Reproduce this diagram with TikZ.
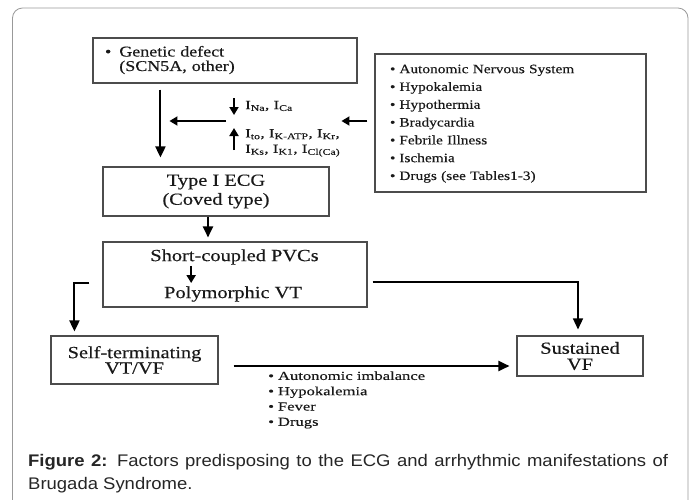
\documentclass[tikz,border=0pt]{standalone}
\usepackage{fontspec}
\usepackage{tikz}
\usetikzlibrary{arrows.meta}

\newfontfamily\diagfont{Liberation Serif}[FakeStretch=1.2, FakeBold=0.3]
\newfontfamily\listfont{Liberation Serif}[FakeStretch=1.35, FakeBold=0.3]
\newfontfamily\capfont{Liberation Sans}[FakeStretch=1.1]

\tikzset{
  box/.style={draw=black!70, line width=1.1pt, inner sep=0pt, align=center,
    text=black!90, font=\diagfont\fontsize{17}{19}\selectfont},
  txt/.style={inner sep=0pt, text=black!90, font=\diagfont\fontsize{17}{19}\selectfont},
  ionlbl/.style={inner sep=0pt, align=left, text=black!90,
    font=\listfont\fontsize{12.5}{15.5}\selectfont},
  lst/.style={inner sep=0pt, align=left, text=black!90},
  arr/.style={-{Triangle[length=11pt,width=10pt]}, line width=2pt},
  small arr/.style={-{Triangle[length=8pt,width=9pt]}, line width=1.8pt}
}

\begin{document}
\begin{tikzpicture}[x=1pt,y=-1pt]

\clip (0,0) rectangle (694,499);
\fill[white] (0,0) rectangle (694,499);

%% The outer frame
\draw[black!40, line width=0.8pt, rounded corners=10pt] (12.5,8) rectangle (688,540);

%% The genetic defect box
\node[box, minimum width=264pt, minimum height=45pt, inner xsep=12pt, text width=240pt,
  align=left, font=\diagfont\fontsize{15}{13.5}\selectfont] (gene) at (225,60.5)
  {\begin{tabular}{@{}l@{\hspace{8pt}}l@{}}\textbullet & Genetic defect\\ & (SCN5A, other)\end{tabular}};

%% The box of factors on the right
\node[box, minimum width=271pt, minimum height=138pt, inner xsep=15pt, text width=241pt,
  align=left, font=\diagfont\fontsize{12.8}{17.8}\selectfont] (risk) at (510.5,123)
  {\begin{tabular}{@{}l@{\hspace{4pt}}l@{}}
  \textbullet & Autonomic Nervous System\\
  \textbullet & Hypokalemia\\
  \textbullet & Hypothermia\\
  \textbullet & Bradycardia\\
  \textbullet & Febrile Illness\\
  \textbullet & Ischemia\\
  \textbullet & Drugs (see Tables1-3)
  \end{tabular}};

%% The ECG box
\node[box, minimum width=226pt, minimum height=49pt] (ecg) at (216,191.5) {Type I ECG\\(Coved type)};

%% The PVC box with its two lines
\node[box, minimum width=264pt, minimum height=65pt] (pvc) at (235,274.5) {};
\node[txt] (pvca) at (234.5,257) {Short-coupled PVCs};
\node[txt] (pvcb) at (233,294) {Polymorphic VT};

%% The end boxes
\node[box, minimum width=167pt, minimum height=48pt, font=\diagfont\fontsize{17}{15.5}\selectfont]
  (self) at (134.5,360) {Self-terminating\\VT/VF};
\node[box, minimum width=126pt, minimum height=40pt, font=\diagfont\fontsize{17}{16}\selectfont]
  (sus) at (580,356) {Sustained\\VF};

%% The currents
\coordinate (ion) at (234,121);
\node[ionlbl, anchor=west] (na) at (245,106) {I\textsubscript{Na}, I\textsubscript{Ca}};
\node[ionlbl, anchor=north west] (kk) at (245,129)
  {I\textsubscript{to}, I\textsubscript{K-ATP}, I\textsubscript{Kr},\\
   I\textsubscript{Ks}, I\textsubscript{K1}, I\textsubscript{Cl(Ca)}};
\draw[small arr] ([yshift=23pt]ion) -- ([yshift=6pt]ion);
\draw[small arr] ([yshift=-29pt]ion) -- ([yshift=-7pt]ion);

%% The arrows of the top part
\coordinate (g1) at ([xshift=68pt,yshift=-6pt]gene.south west);
\draw[arr, shorten >=9pt] (g1) -- (g1 |- ecg.north);
\draw[small arr] ([xshift=-8pt]ion) -- ([xshift=9pt]ion -| g1);
\draw[small arr] ([xshift=-7pt]risk.west |- ion) -- ([xshift=-33pt]risk.west |- ion);

%% ECG to PVCs
\draw[arr, shorten >=4pt] ([xshift=-8pt]ecg.south) -- ([xshift=-8pt]ecg.south |- pvc.north);
\coordinate (m) at ([xshift=41pt,yshift=-1pt]pvca.south west);
\draw[small arr, shorten >=3pt] (m) -- (m |- pvcb.north);

%% The two ways out
\draw[arr, shorten >=4pt] ([xshift=-13pt,yshift=-8.5pt]pvc.west) -| ([xshift=24pt]self.north west);
\draw[arr, line width=1.4pt, shorten >=6pt] ([xshift=5pt,yshift=-7.5pt]pvc.east) -| ([xshift=-2pt]sus.north);
\draw[arr, shorten >=7pt] ([xshift=15pt,yshift=-6pt]self.east) -- ([yshift=-6pt]self.east -| sus.west);

%% The triggers under the arrow
\node[lst, anchor=north west, font=\listfont\fontsize{12.3}{15.3}\selectfont] (trig) at (268,369)
  {\begin{tabular}{@{}l@{\hspace{4pt}}l@{}}
  \textbullet & Autonomic imbalance\\
  \textbullet & Hypokalemia\\
  \textbullet & Fever\\
  \textbullet & Drugs
  \end{tabular}};

%% The caption
\node[anchor=north west, inner sep=0pt, text width=640pt, align=justify, text=black!85,
  font=\capfont\fontsize{16.8}{23.5}\selectfont] (cap) at (28,454)
  {\textbf{Figure 2:} Factors predisposing to the ECG and arrhythmic manifestations of\linebreak
   Brugada Syndrome.};

\end{tikzpicture}
\end{document}
